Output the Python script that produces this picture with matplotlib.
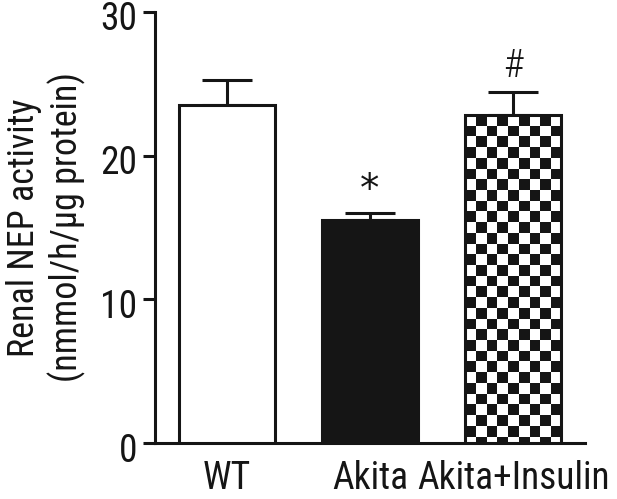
import numpy as np
import matplotlib
matplotlib.use("Agg")
import matplotlib.pyplot as plt
from matplotlib.transforms import ScaledTranslation

categories = ["WT", "Akita", "Akita+Insulin"]
means = [23.5, 15.5, 22.8]
sems = [1.8, 0.5, 1.6]
marks = ["", "*", "#"]
yticks = [0, 10, 20, 30]

plt.rcParams['font.family'] = ["Roboto Condensed", "Archivo Narrow", "DejaVu Sans"]

fig = plt.figure(figsize=(6.17, 4.99), dpi=100)
ax = fig.add_axes([0.2512, 0.1122, 0.948 - 0.2512, 0.976 - 0.1122])
col = "#151515"
x = np.arange(len(categories))
w = 0.67
bars = ax.bar(x, means, width=w, color=["white", col, "white"], edgecolor=col,
              linewidth=2.2, zorder=3)
ax.errorbar(x, means, yerr=[np.zeros(len(sems)), sems], fmt="none", ecolor=col,
            elinewidth=2.2, capsize=18, capthick=2.2, zorder=2)

# checkerboard fill for third bar
b = bars[2]
x0, x1 = b.get_x(), b.get_x() + b.get_width()
h = b.get_height()
ncol = 9
sq_h = 0.745
nrow = int(np.ceil(h / sq_h))
pat = (np.add.outer(np.arange(nrow), np.arange(ncol)) % 2).astype(float)
img = ax.imshow(pat, cmap=matplotlib.colors.ListedColormap(["white", col]),
                extent=(x0, x1, h - nrow * sq_h, h), aspect="auto",
                interpolation="nearest", zorder=3, origin="upper")
img.set_clip_path(b)
b.set_facecolor("none")
b.set_zorder(4)

for xi, m, s, t in zip(x, means, sems, marks):
    if t == "*":
        ax.text(xi, m + s + 0.3, t, ha="center", va="bottom", fontsize=28,
                color=col, family=["DejaVu Sans"])
    elif t:
        ax.text(xi, m + s + 0.5, t, ha="center", va="bottom", fontsize=28,
                color=col, fontweight="light")

ax.set_xlim(-0.5, 2.5)
ax.set_ylim(0, 30)
ax.set_yticks(yticks)
ax.set_xticks(x)
ax.set_xticklabels(categories, fontsize=27)
ax.tick_params(axis="x", length=0, pad=12, colors=col)
ax.tick_params(axis="y", length=9, width=2.2, labelsize=27, colors=col, pad=4)
off = ScaledTranslation(0, -4 / 100, fig.dpi_scale_trans)
for lab in ax.get_yticklabels():
    lab.set_transform(lab.get_transform() + off)
for s in ["top", "right"]:
    ax.spines[s].set_visible(False)
for s in ["left", "bottom"]:
    ax.spines[s].set_linewidth(2.2)
    ax.spines[s].set_color(col)
ax.set_ylabel("Renal NEP activity\n(nmmol/h/μg protein)", fontsize=26,
              color=col, linespacing=1.2, labelpad=10)
fig.savefig("out.png", dpi=100)
